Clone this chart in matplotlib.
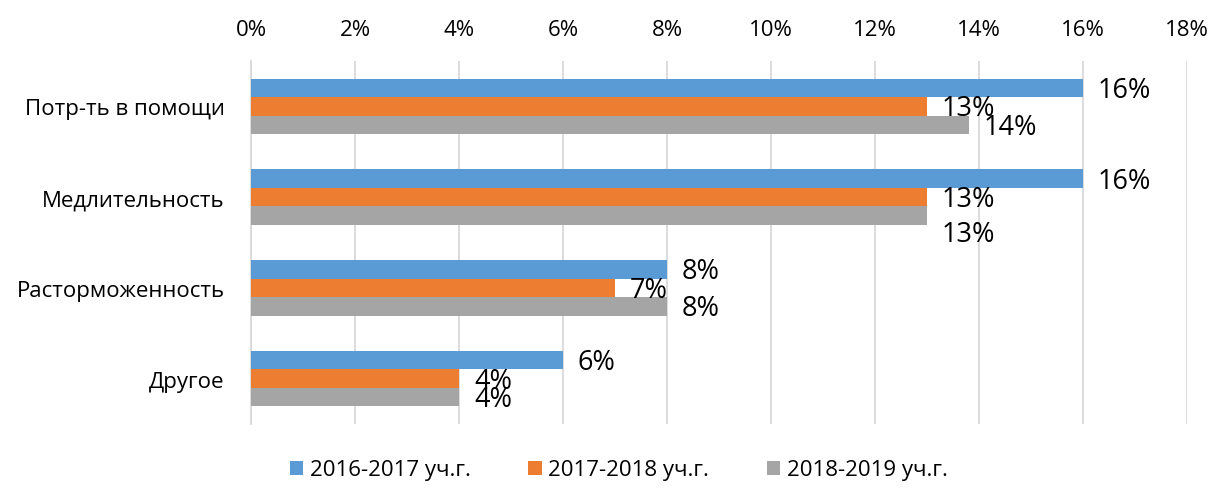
import matplotlib.pyplot as plt
import numpy as np

plt.rcParams['font.family'] = ['Open Sans', 'DejaVu Sans']

categories = ['Потр-ть в помощи', 'Медлительность', 'Расторможенность', 'Другое']
series = ['2016-2017 уч.г.', '2017-2018 уч.г.', '2018-2019 уч.г.']
vals_2016 = [16, 16, 8, 6]
vals_2017 = [13, 13, 7, 4]
vals_2018 = [13.8, 13, 8, 4]
colors = ['#5B9BD5', '#ED7D31', '#A5A5A5']
ticks = np.arange(0, 19, 2)

fig = plt.figure(figsize=(12.13, 4.89), dpi=100)
ax = fig.add_axes([0.2069, 0.1309, 0.7717, 0.7423])

y = np.arange(len(categories))
h = 0.204
data = [vals_2016, vals_2017, vals_2018]
for i, (vals, col, name) in enumerate(zip(data, colors, series)):
    pos = y + (i - 1) * h
    ax.barh(pos, vals, height=h, color=col, label=name, zorder=3)
    for j, (p, v) in enumerate(zip(pos, vals)):
        dy = -2
        # excel pushed this label down so it doesn't overlap
        if i == 2 and j == 1:
            dy = -18
        ax.annotate(f'{round(v)}%', xy=(v, p), xytext=(15, dy),
                    textcoords='offset pixels', ha='left', va='center',
                    fontsize=19.5, color='black', zorder=4)

ax.set_xlim(0, 18)
ax.set_ylim(len(categories) - 0.5, -0.5)
ax.set_yticks(y)
ax.set_yticklabels(categories, fontsize=16)
ax.set_xticks(ticks)
ax.set_xticklabels([f'{t}%' for t in ticks], fontsize=16)
ax.xaxis.tick_top()
ax.tick_params(axis='x', length=0, pad=15)
ax.tick_params(axis='y', length=0, pad=19)
ax.grid(axis='x', color='#d9d9d9', linewidth=1.3, zorder=0)
for s in ['top', 'right', 'bottom']:
    ax.spines[s].set_visible(False)
ax.spines['left'].set_color('#d9d9d9')
ax.spines['left'].set_linewidth(1.3)

fig.legend(loc='center', bbox_to_anchor=(0.51, 0.037), ncol=3, frameon=False,
           fontsize=16, handlelength=0.6, handleheight=0.6, handletextpad=0.3,
           columnspacing=2.6)

fig.savefig('out.png', dpi=100)
